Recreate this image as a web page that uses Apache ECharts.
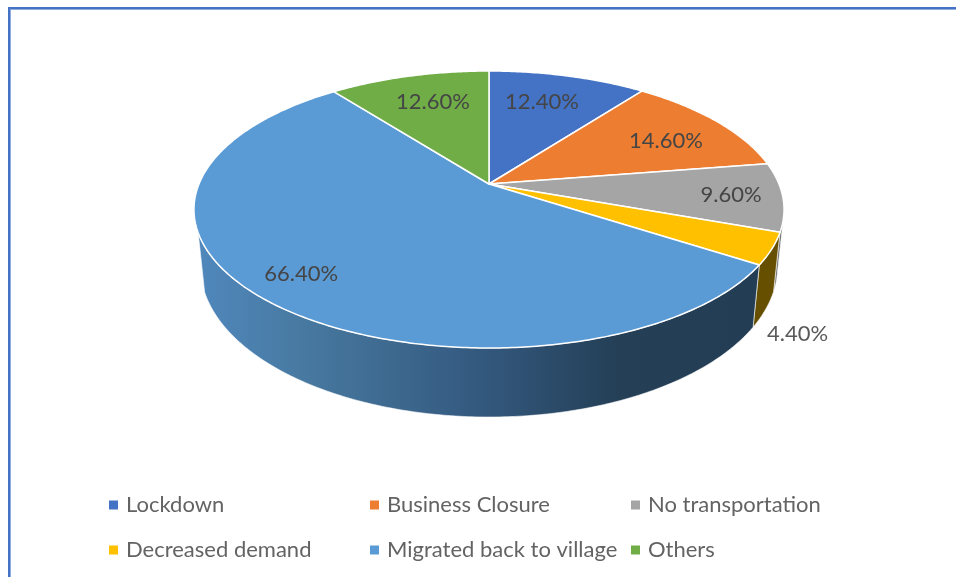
<!DOCTYPE html>
<html>
<head>
<meta charset="utf-8">
<style>html,body{margin:0;padding:0;background:#fff}#c{width:956px;height:577px}</style>
<script src="https://cdn.jsdelivr.net/npm/echarts@6/dist/echarts.min.js"></script>
</head>
<body>
<div id="c"></div>
<script>
// Data
var categories = ['Lockdown', 'Business Closure', 'No transportation', 'Decreased demand', 'Migrated back to village', 'Others'];
var values = [12.4, 14.6, 9.6, 4.4, 66.4, 12.6];
var valueLabels = ['12.40%', '14.60%', '9.60%', '4.40%', '66.40%', '12.60%'];

// Styles
var topColors = ['#4472c4', '#ed7d31', '#a5a5a5', '#ffc000', '#5b9bd5', '#70ad47'];
var wallColors = ['#294576', '#8e4b1e', '#636363', '#665000', null, '#43682b'];
var migratedWallStops = [
  { offset: 0, color: '#5088bd' },
  { offset: 0.2, color: '#47789f' },
  { offset: 0.5, color: '#34597f' },
  { offset: 0.75, color: '#243f56' },
  { offset: 1, color: '#223d54' }
];

// Perspective layout of the disc (homography from unit circle to screen)
var cx = 489, topCy = 184, topA = 290, topB = 133.8, topK = 0.184;
var botA = 284, botCy = 239, botB = 146, botK = 0.18;
var wallFrom = 105, wallTo = 250; // visible wall, degrees clockwise from 12 o'clock
// Label placement, relative to the slice: radius fraction and angular shift from mid-slice
var labelRadius = [0.721, 0.733, 0.826, 1.28, 0.83, 0.724];
var labelShift = [-2, 3.1, 0.2, 20, 1.4, 1.4];

var total = values.reduce(function (a, b) { return a + b; }, 0);
var starts = [];
values.reduce(function (acc, v, i) { starts[i] = acc; return acc + v; }, 0);

function project(deg, r, A, B, k, y0) {
  var t = deg * Math.PI / 180, u = r * Math.sin(t), v = -r * Math.cos(t), w = 1 - k * v;
  return [cx + A * u / w, y0 + B * v / w];
}
function topPt(deg, r) { return project(deg, r, topA, topB, topK, topCy); }
function botPt(deg) { return project(deg, 1, botA, botB, botK, botCy); }
function arc(fn, a, b) {
  var pts = [], n = Math.max(2, Math.ceil(Math.abs(b - a) * 1.5));
  for (var i = 0; i <= n; i++) pts.push(fn(a + (b - a) * i / n));
  return pts;
}

function makeRender(i) {
  return function (params, api) {
    var val = api.value(0);
    var a0 = starts[i] / total * 360, a1 = a0 + val / total * 360, children = [];
    var wa = Math.max(a0, wallFrom), wb = Math.min(a1, wallTo);
    if (wb > wa) {
      var wallPts = arc(function (d) { return topPt(d, 1); }, wa, wb)
        .concat(arc(botPt, wb, wa));
      children.push({
        type: 'polygon', z2: 1,
        shape: { points: wallPts },
        style: {
          fill: wallColors[i] || {
            type: 'linear', global: true, x: 196, y: 0, x2: 760, y2: 0,
            colorStops: migratedWallStops
          },
          stroke: 'rgba(255,255,255,0.75)', lineWidth: 0.8, lineJoin: 'round'
        }
      });
    }
    var topPts = [[cx, topCy]].concat(arc(function (d) { return topPt(d, 1); }, a0, a1));
    children.push({
      type: 'polygon', z2: 2,
      shape: { points: topPts },
      style: { fill: topColors[i], stroke: '#ffffff', lineWidth: 1.5, lineJoin: 'round' }
    });
    var lp = topPt((a0 + a1) / 2 + labelShift[i], labelRadius[i]);
    children.push({
      type: 'text', z2: 3, x: lp[0], y: lp[1],
      style: {
        text: valueLabels[i], align: 'center', verticalAlign: 'middle',
        fill: i === 3 ? '#595959' : '#454545', fontFamily: 'Lato', fontSize: 22
      }
    });
    return { type: 'group', children: children };
  };
}

var series = categories.map(function (name, i) {
  return {
    type: 'custom', name: name, coordinateSystem: 'none', silent: true, animation: false,
    itemStyle: { color: topColors[i] },
    data: [[values[i]]],
    renderItem: makeRender(i)
  };
});

function legendColumn(items, left) {
  return {
    orient: 'vertical', left: left, top: 486, itemGap: 17, itemWidth: 9, itemHeight: 9,
    icon: 'rect', selectedMode: false, data: items,
    textStyle: { fontFamily: 'Lato', fontSize: 22, color: '#636363', padding: [0, 0, 0, 3], lineHeight: 28 }
  };
}

var chart = echarts.init(document.getElementById('c'), null, { renderer: 'canvas' });
chart.setOption({
  animation: false,
  backgroundColor: '#ffffff',
  legend: [
    legendColumn([categories[0], categories[3]], 104),
    legendColumn([categories[1], categories[4]], 365),
    legendColumn([categories[2], categories[5]], 626)
  ],
  graphic: [
    { type: 'rect', shape: { x: 8, y: 7, width: 948, height: 2 }, style: { fill: '#4472c4' } },
    { type: 'rect', shape: { x: 10, y: 9, width: 946, height: 1 }, style: { fill: '#8fabdf' } },
    { type: 'rect', shape: { x: 8, y: 7, width: 2, height: 570 }, style: { fill: '#4472c4' } },
    { type: 'rect', shape: { x: 10, y: 9, width: 1, height: 568 }, style: { fill: '#8fabdf' } }
  ],
  series: series
});
</script>
</body>
</html>
